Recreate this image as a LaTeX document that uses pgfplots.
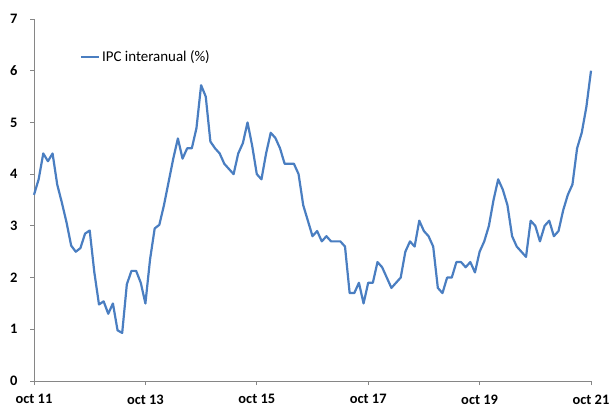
\documentclass[border=0pt]{standalone}
\usepackage{pgfplots}
\pgfplotsset{compat=1.18}
\usepackage{fontspec}
\setmainfont{Carlito}
\definecolor{ipcblue}{RGB}{74,126,193}
\definecolor{axgray}{RGB}{134,134,134}
\begin{document}
\begin{tikzpicture}[x=1bp,y=1bp]
\path[use as bounding box] (0,0) rectangle (611,407);
\begin{axis}[
  at={(34bp,26bp)}, anchor=origin,
  scale only axis, width=557bp, height=362bp,
  xmin=0, xmax=120, ymin=0, ymax=7,
  axis x line*=bottom, axis y line*=left,
  axis line style={-, draw=axgray, line width=0.9bp},
  xtick={0,24,48,72,96,120},
  xticklabels={oct 11,oct 13,oct 15,oct 17,oct 19,oct 21},
  ytick={0,1,2,3,4,5,6,7},
  tick align=outside,
  major tick length=4bp,
  tick style={draw=axgray, line width=0.9bp},
  /pgf/number format/assume math mode=true,
  tick label style={font=\bfseries\fontsize{14.5}{16}\selectfont, text=black},
  yticklabel style={xshift=-9bp},
  xticklabel style={yshift=-6bp},
  legend style={at={(0.082,0.895)}, anchor=west, draw=none, fill=none,
    font=\fontsize{15}{17}\selectfont, inner sep=0pt,
    legend cell align=left},
  legend image code/.code={\draw[#1, line width=2.2bp] (0,0) -- (18bp,0);},
  clip=false,
]
\addplot[ipcblue, line width=2.2bp, line join=round] coordinates {
(0,3.6) (1,3.9) (2,4.4) (3,4.25) (4,4.4) (5,3.8) (6,3.45) (7,3.07) (8,2.62) (9,2.5)
(10,2.57) (11,2.85) (12,2.91) (13,2.1) (14,1.48) (15,1.54) (16,1.3) (17,1.5) (18,0.98) (19,0.93)
(20,1.87) (21,2.13) (22,2.13) (23,1.9) (24,1.5) (25,2.35) (26,2.95) (27,3.02) (28,3.4) (29,3.85)
(30,4.3) (31,4.69) (32,4.3) (33,4.5) (34,4.5) (35,4.89) (36,5.72) (37,5.5) (38,4.63) (39,4.5)
(40,4.4) (41,4.2) (42,4.1) (43,4.0) (44,4.4) (45,4.6) (46,5.0) (47,4.55) (48,4.0) (49,3.9)
(50,4.4) (51,4.8) (52,4.7) (53,4.5) (54,4.2) (55,4.2) (56,4.2) (57,4.0) (58,3.4) (59,3.1)
(60,2.8) (61,2.9) (62,2.7) (63,2.8) (64,2.7) (65,2.7) (66,2.7) (67,2.6) (68,1.7) (69,1.7)
(70,1.9) (71,1.5) (72,1.9) (73,1.9) (74,2.3) (75,2.2) (76,2.0) (77,1.8) (78,1.9) (79,2.0)
(80,2.5) (81,2.7) (82,2.6) (83,3.1) (84,2.9) (85,2.8) (86,2.6) (87,1.8) (88,1.7) (89,2.0)
(90,2.0) (91,2.3) (92,2.3) (93,2.2) (94,2.3) (95,2.1) (96,2.5) (97,2.7) (98,3.0) (99,3.5)
(100,3.9) (101,3.7) (102,3.4) (103,2.8) (104,2.6) (105,2.5) (106,2.4) (107,3.1) (108,3.0) (109,2.7)
(110,3.0) (111,3.1) (112,2.8) (113,2.9) (114,3.3) (115,3.6) (116,3.8) (117,4.5) (118,4.8) (119,5.3)
(120,6.0)
};
\addlegendentry{IPC interanual (\%)}
\end{axis}
\end{tikzpicture}
\end{document}
